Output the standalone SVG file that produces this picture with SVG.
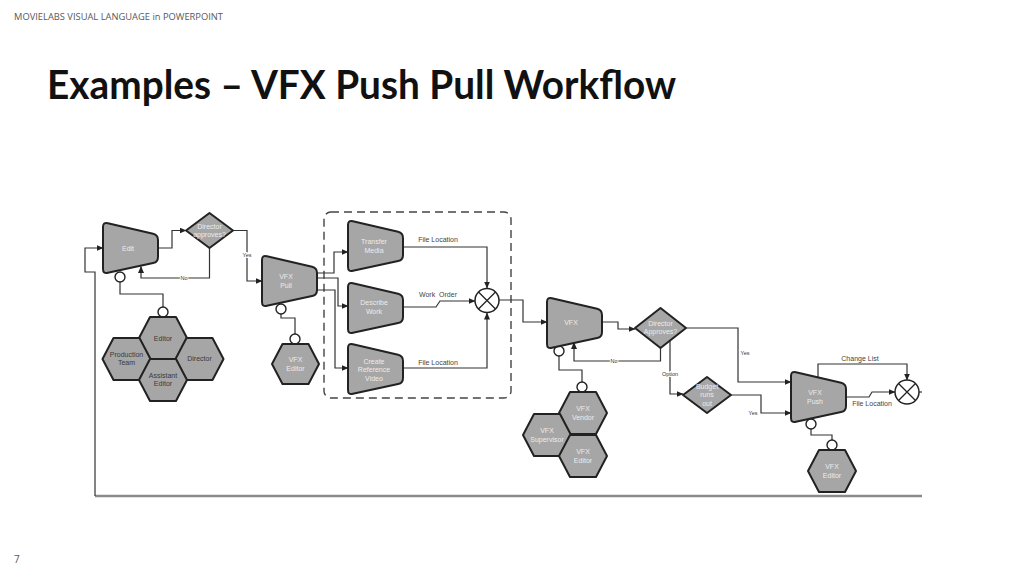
<svg xmlns="http://www.w3.org/2000/svg" xmlns:xlink="http://www.w3.org/1999/xlink" width="1024" height="576" viewBox="0 0 1024 576">
<style>
.node{fill:#a6a6a6;stroke:#222;stroke-width:2;stroke-linejoin:round}
.lt{font-family:"Liberation Sans",Arial,sans-serif;font-size:7px;fill:#ececec;text-anchor:middle}
.dk{font-family:"Liberation Sans",Arial,sans-serif;font-size:7px;fill:#3a3a3a;text-anchor:middle}
.cl{font-family:"Liberation Sans",Arial,sans-serif;font-size:7px;fill:#444;text-anchor:middle}
.sm{font-family:"Liberation Sans",Arial,sans-serif;font-size:5.5px;fill:#333;text-anchor:middle;stroke:#fff;stroke-width:2;paint-order:stroke}
.con{fill:none;stroke:#333;stroke-width:1.2}
.arr{fill:none;stroke:#333;stroke-width:1.2;marker-end:url(#ah)}
.pin{fill:#fff;stroke:#222;stroke-width:1.4}
</style>
<defs>
<marker id="ah" markerWidth="7" markerHeight="6" refX="6.5" refY="3" orient="auto" markerUnits="userSpaceOnUse">
<path d="M0,0 L7,3 L0,6 Z" fill="#222"/>
</marker>
<path id="trap" d="M0,5 Q0,0 4.9,1.2 L50.1,11.8 Q55,13 55,18 L55,35 Q55,40 50.1,41.1 L4.9,50.8 Q0,52 0,47 Z"/>
<path id="hex" d="M-24,0 L-13,-21 L13,-21 L24,0 L13,21 L-13,21 Z"/>
<path id="hexs" d="M-23.5,0 L-13,-20 L13,-20 L23.5,0 L13,20 L-13,20 Z"/>
</defs>
<rect width="1024" height="576" fill="#fff"/>
<text x="14" y="20" font-family="'Open Sans','Liberation Sans',sans-serif" font-size="9.5" fill="#595959" textLength="209" lengthAdjust="spacingAndGlyphs">MOVIELABS VISUAL LANGUAGE in POWERPOINT</text>
<text x="47" y="99" font-family="Lato,'Liberation Sans',sans-serif" font-weight="bold" font-size="40" fill="#111" textLength="629" lengthAdjust="spacingAndGlyphs">Examples – VFX Push Pull Workflow</text>
<text x="14" y="563" font-family="'Open Sans','Liberation Sans',sans-serif" font-size="10" fill="#595959">7</text>

<g id="connectors">
<rect x="324" y="212" width="187" height="186" rx="7" fill="none" stroke="#444" stroke-width="1.4" stroke-dasharray="8,5"/>
<line x1="95" y1="496" x2="922" y2="496" stroke="#8a8a8a" stroke-width="2.5"/>
<path class="arr" d="M95,496 V272 H85 V248 H103"/>
<path class="arr" d="M158,248 H172 V230.5 H186"/>
<path class="arr" d="M209.5,248 V278 H141 V266.5"/>
<path class="arr" d="M233,230.5 H247 V281 H262"/>
<path class="arr" d="M317,273 H334 V252 H348"/>
<path class="arr" d="M317,278 H338 V306 H348"/>
<path class="arr" d="M317,290 H335 V368 H348"/>
<path class="arr" d="M403,247 H487 V288"/>
<path class="arr" d="M403,307 H436 L440,301 H475"/>
<path class="arr" d="M403,368 H487 V313"/>
<path class="arr" d="M499,300 H523 V322 H547"/>
<path class="arr" d="M602,322 H618 V329 H635"/>
<path class="arr" d="M660.5,348 V361 H574 V342.5"/>
<path class="arr" d="M670,340 V394 H683"/>
<path class="arr" d="M686,328 H738 V382 H791"/>
<path class="arr" d="M731,395 H761 V413 H791"/>
<path class="arr" d="M818,377 V364 H907 V380"/>
<path class="arr" d="M846,397 H869 L872,392 H895"/>
<path class="con" d="M919,392 H922"/>
<path class="con" d="M120,282 V294 H163 V307"/>
<path class="con" d="M281,314 V318 H295 V334"/>
<path class="con" d="M559,356 V370 H582 V382"/>
<path class="con" d="M811,429 V435 H832 V440"/>
<circle class="pin" cx="120" cy="277" r="5"/>
<circle class="pin" cx="163" cy="312" r="5"/>
<circle class="pin" cx="281" cy="309" r="5"/>
<circle class="pin" cx="295" cy="339" r="5"/>
<circle class="pin" cx="559" cy="351" r="5"/>
<circle class="pin" cx="582" cy="387" r="5"/>
<circle class="pin" cx="811" cy="424" r="5"/>
<circle class="pin" cx="832" cy="445" r="5"/>
<text class="sm" x="184" y="280">No</text>
<text class="sm" x="247" y="257">Yes</text>
<text class="cl" x="438" y="242">File Location</text>
<text class="cl" x="438" y="297" xml:space="preserve">Work  Order</text>
<text class="cl" x="438" y="365">File Location</text>
<text class="sm" x="614" y="363">No</text>
<text class="sm" x="670" y="376">Option</text>
<text class="sm" x="745" y="355">Yes</text>
<text class="sm" x="753" y="415">Yes</text>
<text class="cl" x="860" y="361">Change List</text>
<text class="cl" x="872" y="406">File Location</text>
</g>

<g id="merge1">
<circle cx="487" cy="300.5" r="12" fill="#fff" stroke="#222" stroke-width="1.5"/>
<path d="M478.5,292 L495.5,309 M495.5,292 L478.5,309" stroke="#222" stroke-width="1.3"/>
</g>
<g id="merge2">
<circle cx="907" cy="392" r="12" fill="#fff" stroke="#222" stroke-width="1.5"/>
<path d="M898.5,383.5 L915.5,400.5 M915.5,383.5 L898.5,400.5" stroke="#222" stroke-width="1.3"/>
</g>

<g id="edit"><use href="#trap" class="node" x="103" y="222"/><text class="lt" x="128" y="251">Edit</text></g>
<g id="director-approves"><path class="node" d="M186,230.5 L209.5,213 L233,230.5 L209.5,248 Z"/><text class="lt" x="209.5" y="229">Director</text><text class="lt" x="209.5" y="237">approves?</text></g>
<g id="vfx-pull"><use href="#trap" class="node" x="262" y="255"/><text class="lt" x="286" y="279">VFX</text><text class="lt" x="286" y="288">Pull</text></g>
<g id="transfer-media"><use href="#trap" class="node" x="348" y="220"/><text class="lt" x="374" y="244">Transfer</text><text class="lt" x="374" y="253">Media</text></g>
<g id="describe-work"><use href="#trap" class="node" x="348" y="282"/><text class="lt" x="374" y="305">Describe</text><text class="lt" x="374" y="314">Work</text></g>
<g id="create-reference-video"><use href="#trap" class="node" x="348" y="343"/><text class="lt" x="374" y="364">Create</text><text class="lt" x="374" y="372">Reference</text><text class="lt" x="374" y="380.5">Video</text></g>
<g id="vfx"><use href="#trap" class="node" x="547" y="297"/><text class="lt" x="571" y="325">VFX</text></g>
<g id="director-approves-2"><path class="node" d="M635,328 L660.5,308 L686,328 L660.5,348 Z"/><text class="lt" x="660.5" y="326">Director</text><text class="lt" x="660.5" y="334">Approves?</text></g>
<g id="budget-runs-out"><path class="node" d="M683,395 L707,377 L731,395 L707,413 Z"/><text class="lt" x="707" y="389">Budget</text><text class="lt" x="707" y="397">runs</text><text class="lt" x="707" y="405.5">out</text></g>
<g id="vfx-push"><use href="#trap" class="node" x="791" y="371"/><text class="lt" x="815" y="395">VFX</text><text class="lt" x="815" y="404">Push</text></g>

<g id="editor"><use href="#hex" class="node" transform="translate(163,338)"/><text class="dk" x="163" y="340.5">Editor</text></g>
<g id="production-team"><use href="#hex" class="node" transform="translate(126.5,359)"/><text class="dk" x="126.5" y="357">Production</text><text class="dk" x="126.5" y="365">Team</text></g>
<g id="director"><use href="#hex" class="node" transform="translate(199.5,359)"/><text class="dk" x="199.5" y="361">Director</text></g>
<g id="assistant-editor"><use href="#hex" class="node" transform="translate(163,380)"/><text class="dk" x="163" y="378">Assistant</text><text class="dk" x="163" y="386">Editor</text></g>
<g id="vfx-editor-pull"><use href="#hexs" class="node" transform="translate(295.5,364)"/><text class="lt" x="295.5" y="362">VFX</text><text class="lt" x="295.5" y="371">Editor</text></g>
<g id="vfx-vendor"><use href="#hex" class="node" transform="translate(583,413)"/><text class="lt" x="583" y="411">VFX</text><text class="lt" x="583" y="420">Vendor</text></g>
<g id="vfx-supervisor"><use href="#hex" class="node" transform="translate(547,435)"/><text class="lt" x="547" y="433">VFX</text><text class="lt" x="547" y="442">Supervisor</text></g>
<g id="vfx-editor-vfx"><use href="#hex" class="node" transform="translate(583,456)"/><text class="lt" x="583" y="454">VFX</text><text class="lt" x="583" y="463">Editor</text></g>
<g id="vfx-editor-push"><use href="#hex" class="node" transform="translate(832,471)"/><text class="lt" x="832" y="469">VFX</text><text class="lt" x="832" y="478">Editor</text></g>
</svg>
